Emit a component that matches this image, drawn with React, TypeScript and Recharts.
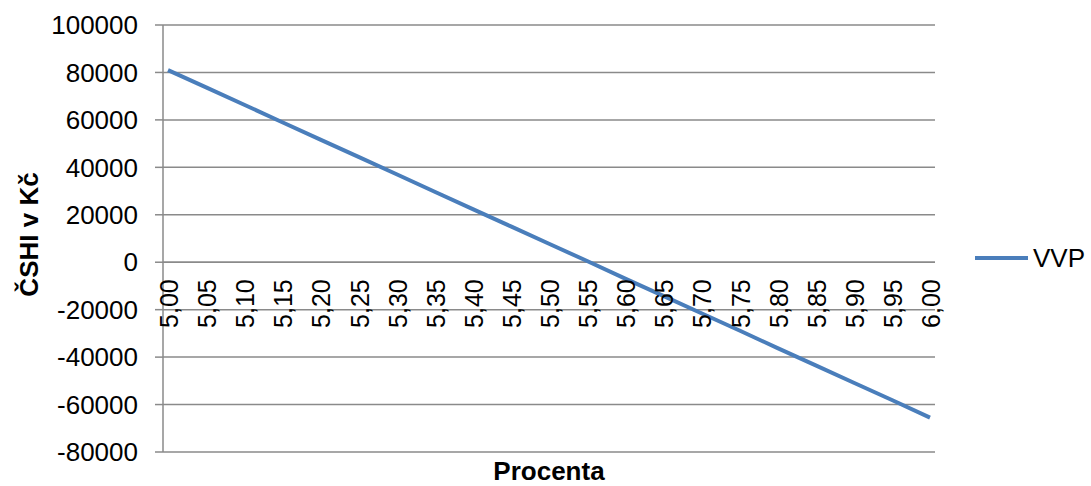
import React from 'react';
import { LineChart, Line, XAxis, YAxis, CartesianGrid, ReferenceLine, Legend } from 'recharts';

const categories = [
  '5,00', '5,05', '5,10', '5,15', '5,20', '5,25', '5,30', '5,35', '5,40', '5,45', '5,50',
  '5,55', '5,60', '5,65', '5,70', '5,75', '5,80', '5,85', '5,90', '5,95', '6,00',
];
const vvpValues = [
  81000, 73700, 66400, 59000, 51700, 44400, 37100, 29700, 22400, 15100, 7800,
  500, -6900, -14200, -21500, -28800, -36200, -43500, -50800, -58100, -65500,
];
const yTicks = [-80000, -60000, -40000, -20000, 0, 20000, 40000, 60000, 80000, 100000];

const seriesName = 'VVP';
const xTitle = 'Procenta';
const yTitle = 'ČSHI v Kč';

const data = categories.map((c, i) => ({ pct: c, VVP: vvpValues[i] }));

const W = 1091;
const H = 486;
const TOP = 25;
const X_AXIS_H = 34;
const PLOT_H = H - TOP - X_AXIS_H;
const Y_MIN = -80000;
const Y_MAX = 100000;
const FONT = '"Liberation Sans", Arial, sans-serif';
const GRID = '#8a8a8a';
const LINE = '#4a7ebb';

const XTick = (props: any) => {
  const { x, payload } = props;
  const zeroY = TOP + PLOT_H * (Y_MAX / (Y_MAX - Y_MIN));
  return (
    <text
      transform={`translate(${x + 1},${zeroY + 17}) rotate(-90)`}
      textAnchor="end"
      dominantBaseline="central"
      fontSize={25}
      fill="#000"
      fontFamily={FONT}
    >
      {payload.value}
    </text>
  );
};

const XLabel = (props: any) => {
  const vb = props.viewBox || {};
  return (
    <text
      x={vb.x + vb.width / 2}
      y={vb.y + 28}
      textAnchor="middle"
      fontSize={26}
      fontWeight="bold"
      fill="#000"
      fontFamily={FONT}
    >
      {xTitle}
    </text>
  );
};

const YLabel = (props: any) => {
  const vb = props.viewBox || {};
  const cx = vb.x + 29;
  const cy = vb.y + vb.height / 2 - 4;
  return (
    <text
      transform={`translate(${cx},${cy}) rotate(-90)`}
      textAnchor="middle"
      dominantBaseline="central"
      fontSize={26}
      fontWeight="bold"
      fill="#000"
      fontFamily={FONT}
    >
      {yTitle}
    </text>
  );
};

const LegendContent = () => (
  <div style={{ display: 'flex', alignItems: 'center', fontFamily: FONT }}>
    <svg width={53} height={6}>
      <line x1={0} y1={3} x2={53} y2={3} stroke={LINE} strokeWidth={4} />
    </svg>
    <span style={{ marginLeft: 5, fontSize: 26, color: '#000', lineHeight: '30px' }}>{seriesName}</span>
  </div>
);

export default function App() {
  return (
    <div style={{ position: 'absolute', left: 0, top: 0, width: W, height: H, background: '#fff' }}>
      <LineChart width={W} height={H} data={data} margin={{ top: TOP, right: 156, bottom: 0, left: 0 }}>
        <CartesianGrid vertical={false} stroke={GRID} strokeWidth={1.5} />
        <XAxis
          dataKey="pct"
          interval={0}
          axisLine={false}
          tickLine={false}
          tick={<XTick />}
          padding={{ left: 5, right: 5 }}
          height={X_AXIS_H}
          label={<XLabel />}
        />
        <YAxis
          width={163}
          domain={[Y_MIN, Y_MAX]}
          ticks={yTicks}
          interval={0}
          tickSize={8}
          tickMargin={17}
          axisLine={{ stroke: GRID, strokeWidth: 1.5 }}
          tickLine={{ stroke: GRID, strokeWidth: 1.5 }}
          tick={{ fontSize: 26, fill: '#000', fontFamily: FONT }}
          label={<YLabel />}
        />
        <ReferenceLine y={0} stroke={GRID} strokeWidth={1.5} />
        <Legend
          verticalAlign="middle"
          align="center"
          layout="horizontal"
          content={<LegendContent />}
          wrapperStyle={{ left: 975, top: 243, width: 116, right: 'auto', bottom: 'auto' }}
        />
        <Line
          type="linear"
          dataKey="VVP"
          name={seriesName}
          stroke={LINE}
          strokeWidth={4}
          dot={false}
          isAnimationActive={false}
        />
      </LineChart>
    </div>
  );
}
